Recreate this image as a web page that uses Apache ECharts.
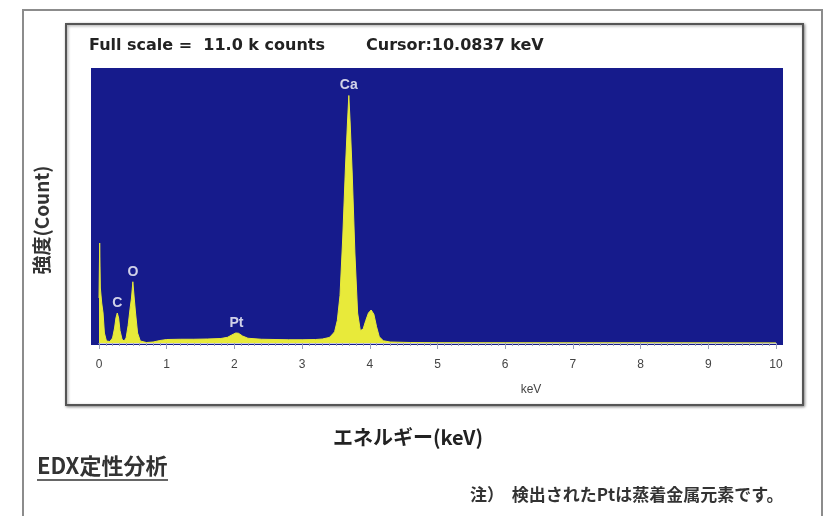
<!DOCTYPE html>
<html>
<head>
<meta charset="utf-8">
<script src="https://cdn.jsdelivr.net/npm/echarts@6/dist/echarts.min.js"></script>
<style>
    html, body { margin: 0; padding: 0; background: #fff; }
    #chart { width: 833px; height: 516px; }
</style>
</head>
<body>
<div id="chart"></div>
<script>
/* EDXスペクトル データ */
var energy = [0, 0.01, 0.02, 0.04, 0.06, 0.08, 0.11, 0.16, 0.20, 0.23, 0.25, 0.27, 0.29, 0.31, 0.34,
    0.37, 0.40, 0.43, 0.46, 0.48, 0.50, 0.52, 0.54, 0.57, 0.61, 0.70, 0.80, 0.90, 1.0, 1.2, 1.4, 1.6,
    1.8, 1.9, 1.96, 2.02, 2.06, 2.12, 2.2, 2.4, 2.6, 2.8, 3.0, 3.2, 3.3, 3.4, 3.44, 3.48, 3.52, 3.56,
    3.60, 3.64, 3.67, 3.69, 3.71, 3.74, 3.78, 3.82, 3.86, 3.90, 3.94, 3.98, 4.02, 4.06, 4.10, 4.14,
    4.2, 4.3, 4.6, 5, 6, 7, 8, 9, 10];
var counts = [1800, 4000, 2200, 1600, 1200, 400, 80, 60, 200, 600, 1000, 1200, 1000, 500, 150,
    80, 200, 700, 1400, 1800, 2450, 1800, 1200, 400, 80, 20, 40, 100, 140, 150, 150, 160,
    180, 230, 320, 400, 390, 280, 190, 150, 140, 130, 130, 140, 160, 220, 320, 450, 900, 1900,
    4200, 7000, 8800, 9900, 8800, 6800, 3600, 1200, 500, 550, 900, 1200, 1320, 1150, 650, 250,
    90, 40, 20, 12, 10, 8, 8, 6, 5];

var peakNames = ['C', 'O', 'Pt', 'Ca'];
var peakEnergy = [0.27, 0.50, 2.03, 3.69];
var peakCounts = [1200, 2450, 400, 9900];

var xTickLabels = ['0', '1', '2', '3', '4', '5', '6', '7', '8', '9', '10'];

var fullScale = 11000;

var ChartOper = function () {

    var fontJp = '"Noto Sans CJK JP", sans-serif';
    var fontEn = 'Arial, "Liberation Sans", sans-serif';
    var fontHead = '"DejaVu Sans", Arial, sans-serif';

    // 装飾用の枠・テキスト
    var getGraphic = function () {
        return [
            // 外枠
            {
                type: 'rect', z: 0,
                shape: { x: 23, y: 10, width: 799, height: 520 },
                style: { fill: null, stroke: '#8c8c8c', lineWidth: 2 }
            },
            // 内枠
            {
                type: 'rect', z: 0,
                shape: { x: 66, y: 24, width: 737, height: 381 },
                style: { fill: '#fff', stroke: '#555', lineWidth: 2, shadowBlur: 3, shadowColor: 'rgba(0,0,0,0.4)', shadowOffsetX: 1, shadowOffsetY: 1 }
            },
            // 青い測定エリア
            {
                type: 'rect', z: 1,
                shape: { x: 91, y: 68, width: 692, height: 277 },
                style: { fill: '#161b8c' }
            },
            {
                type: 'text', z: 5, x: 89, y: 46,
                style: { text: 'Full scale =  11.0 k counts', font: 'bold 16px ' + fontHead, fill: '#222', verticalAlign: 'middle' }
            },
            {
                type: 'text', z: 5, x: 366, y: 46,
                style: { text: 'Cursor:10.0837 keV', font: 'bold 16px ' + fontHead, fill: '#222', verticalAlign: 'middle' }
            },
            {
                type: 'text', z: 5, x: 531, y: 390,
                style: { text: 'keV', font: '12px ' + fontEn, fill: '#444', align: 'center', verticalAlign: 'middle' }
            },
            {
                type: 'text', z: 5, x: 42, y: 220, rotation: Math.PI / 2,
                style: { text: '強度(Count)', font: 'bold 19px ' + fontJp, fill: '#333', align: 'center', verticalAlign: 'middle' }
            },
            {
                type: 'text', z: 5, x: 408, y: 437,
                style: { text: 'エネルギー(keV)', font: 'bold 20px ' + fontJp, fill: '#222', align: 'center', verticalAlign: 'middle' }
            },
            {
                type: 'text', z: 5, x: 37, y: 466,
                style: { text: 'EDX定性分析', font: 'bold 22px ' + fontJp, fill: '#333', verticalAlign: 'middle' }
            },
            {
                type: 'line', z: 5,
                shape: { x1: 37, y1: 480, x2: 168, y2: 480 },
                style: { stroke: '#333', lineWidth: 1.5 }
            },
            {
                type: 'text', z: 5, x: 470, y: 495,
                style: { text: '注）  検出されたPtは蒸着金属元素です。', font: 'bold 17px ' + fontJp, fill: '#333', verticalAlign: 'middle' }
            }
        ];
    }

    var getOption = function () {
        var spectrum = energy.map(function (e, i) { return [e, counts[i]]; });
        var peaks = peakEnergy.map(function (e, i) { return [e, peakCounts[i]]; });
        return {
            animation: false,
            backgroundColor: '#fff',
            graphic: getGraphic(),
            grid: { left: 99, right: 57, top: 68, bottom: 173 },
            xAxis: {
                type: 'value',
                min: 0,
                max: 10,
                interval: 1,
                z: 3,
                axisLine: { show: true, lineStyle: { color: '#c8cce0', width: 1 } },
                axisTick: { show: true, length: 6, lineStyle: { color: '#9aa0b8' } },
                minorTick: { show: true, splitNumber: 10, length: 3, lineStyle: { color: '#9aa0b8' } },
                splitLine: { show: false },
                axisLabel: {
                    margin: 16,
                    color: '#444',
                    fontFamily: fontEn,
                    fontSize: 12,
                    formatter: function (v) { return xTickLabels[Math.round(v)]; }
                }
            },
            yAxis: {
                type: 'value',
                min: 0,
                max: fullScale,
                show: false,
                splitLine: { show: false }
            },
            series: [
                {
                    type: 'line',
                    name: 'spectrum',
                    data: spectrum,
                    showSymbol: false,
                    smooth: false,
                    z: 4,
                    lineStyle: { color: '#e8ea3a', width: 1 },
                    areaStyle: { color: '#e8ea3a', opacity: 1 }
                },
                {
                    type: 'scatter',
                    name: 'peaks',
                    data: peaks,
                    symbolSize: 0,
                    z: 6,
                    label: {
                        show: true,
                        position: 'top',
                        distance: 3,
                        color: '#fff',
                        fontWeight: 'bold',
                        fontSize: 14,
                        fontFamily: fontEn,
                        formatter: function (p) { return peakNames[p.dataIndex]; }
                    }
                }
            ]
        };
    }

    return {
        init: function () {
            var myChart = echarts.init(document.getElementById('chart'));
            myChart.setOption(getOption());
        }
    }
}();

ChartOper.init();
</script>
</body>
</html>
